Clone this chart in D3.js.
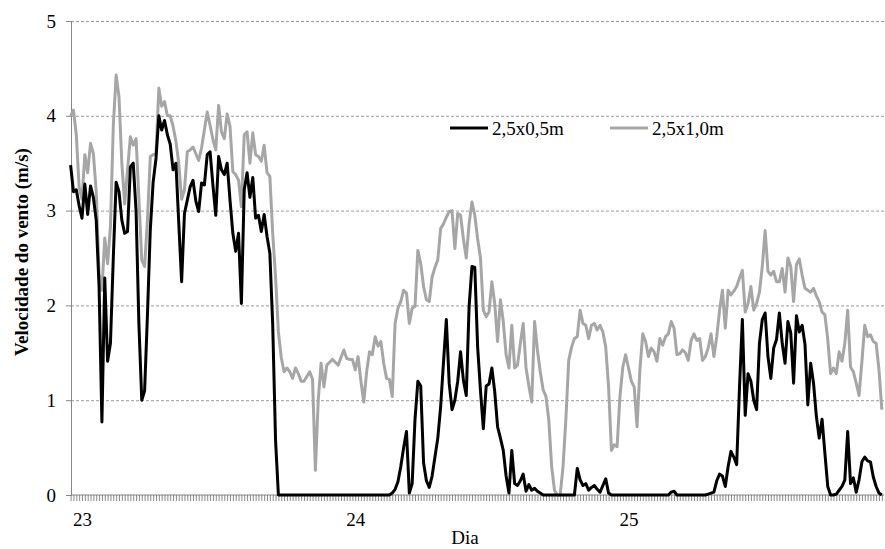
<!DOCTYPE html>
<html>
<head>
<meta charset="utf-8">
<script src="https://cdn.jsdelivr.net/npm/d3@7"></script>
<style>
  body { margin: 0; background: #fff; }
  svg text { font-family: 'Liberation Serif', 'DejaVu Serif', serif; }
</style>
</head>
<body>
<div id="chart"></div>
<script>
const dayLabels = [23, 24, 25];
const yTicks = [0, 1, 2, 3, 4, 5];
const seriesNames = ['2,5x0,5m', '2,5x1,0m'];
// readings every 15 min, first one at 23h00 of day 22
const startDay = 23 - 4 / 96;
const stepDay = 1 / 96;

const v05 = [
  3.48, 3.2, 3.22, 3.05, 2.92, 3.28, 2.96, 3.26, 3.14, 2.9, 2.2, 0.77,
  2.29, 1.41, 1.6, 2.5, 3.3, 3.2, 2.9, 2.76, 2.78, 3.46, 3.5, 3.0,
  1.8, 1.0, 1.1, 1.9, 2.8, 3.3, 3.55, 4.0, 3.85, 3.95, 3.8, 3.7,
  3.43, 3.5, 2.87, 2.25, 2.97, 3.11, 3.25, 3.32, 3.1, 2.99, 3.29, 3.27,
  3.59, 3.62, 3.27, 2.95, 3.57, 3.43, 3.38, 3.5, 3.11, 2.76, 2.57, 2.76,
  2.02, 3.22, 3.4, 3.14, 3.35, 2.92, 2.95, 2.78, 2.96, 2.73, 2.55, 1.8,
  0.58, 0, 0, 0, 0, 0, 0, 0, 0, 0, 0, 0,
  0, 0, 0, 0, 0, 0, 0, 0, 0, 0, 0, 0,
  0, 0, 0, 0, 0, 0, 0, 0, 0, 0, 0, 0,
  0, 0, 0, 0, 0, 0.02, 0.06, 0.14, 0.3, 0.5, 0.67, 0.02,
  0.12, 0.8, 1.2, 1.15, 0.34, 0.15, 0.08, 0.2, 0.4, 0.6, 0.93, 1.4,
  1.85, 1.18, 0.9, 1.0, 1.2, 1.51, 1.21, 1.05, 1.99, 2.41, 2.4, 1.56,
  1.1, 0.7, 1.15, 1.17, 1.34, 1.09, 0.72, 0.6, 0.47, 0.2, 0.02, 0.47,
  0.12, 0.1, 0.15, 0.22, 0.04, 0.11, 0.05, 0.07, 0.04, 0.02, 0, 0,
  0, 0, 0, 0, 0, 0, 0, 0, 0, 0, 0.28, 0.16,
  0.1, 0.12, 0.05, 0.08, 0.1, 0.06, 0.03, 0.1, 0.17, 0.02, 0, 0,
  0, 0, 0, 0, 0, 0, 0, 0, 0, 0, 0, 0,
  0, 0, 0, 0, 0, 0, 0, 0.03, 0.04, 0, 0, 0,
  0, 0, 0, 0, 0, 0, 0, 0, 0.01, 0.02, 0.03, 0.15,
  0.22, 0.2, 0.09, 0.3, 0.46, 0.4, 0.32, 1.14, 1.85, 0.84, 1.28, 1.2,
  1.0, 0.9, 1.6, 1.85, 1.92, 1.46, 1.23, 1.55, 1.64, 1.92, 1.6, 1.39,
  1.83, 1.71, 1.18, 1.89, 1.72, 1.79, 1.59, 0.95, 1.39, 1.18, 0.83, 0.6,
  0.8, 0.44, 0.09, 0, 0, 0.01, 0.05, 0.09, 0.16, 0.67, 0.12, 0.18,
  0.03, 0.16, 0.35, 0.4, 0.36, 0.35, 0.19, 0.09, 0.02, 0,
];

const v10 = [
  4.0, 4.06, 3.8, 3.25, 3.12, 3.59, 3.4, 3.71, 3.6, 3.2, 2.34, 2.16,
  2.71, 2.44, 2.83, 3.89, 4.43, 4.2, 3.5, 3.07, 3.43, 3.78, 3.69, 3.76,
  3.12, 2.48, 2.41, 2.9, 3.57, 3.59, 3.6, 4.29, 4.1, 4.15, 4.0, 4.0,
  3.89, 3.73, 3.5, 3.12, 3.22, 3.62, 3.64, 3.67, 3.6, 3.53, 3.66, 3.85,
  4.04, 3.9, 3.75, 3.64, 4.11, 3.83, 3.76, 4.02, 3.89, 3.41, 3.38, 3.32,
  3.04, 3.8, 3.83, 3.5, 3.82, 3.59, 3.57, 3.52, 3.69, 3.4, 3.36, 2.76,
  2.3, 1.72, 1.45, 1.3, 1.34, 1.3, 1.23, 1.34, 1.28, 1.2, 1.2, 1.25,
  1.3, 1.22, 0.26, 1.0, 1.39, 1.14, 1.37, 1.4, 1.43, 1.4, 1.37, 1.45,
  1.53, 1.44, 1.43, 1.43, 1.32, 1.46, 1.2, 0.98, 1.3, 1.51, 1.48, 1.67,
  1.57, 1.62, 1.39, 1.23, 1.22, 1.04, 1.81, 1.97, 2.04, 2.16, 2.13, 1.81,
  1.97, 1.99, 2.58, 2.44, 2.2, 2.06, 2.04, 2.3, 2.4, 2.48, 2.81, 2.86,
  2.93, 2.99, 3.0, 2.6, 2.97, 2.95, 2.7, 2.5, 2.86, 3.09, 2.95, 2.7,
  2.5, 1.95, 1.88, 1.93, 2.25, 2.02, 1.62, 2.06, 1.83, 1.48, 1.34, 1.79,
  1.34, 1.37, 1.6, 1.81, 1.34, 1.15, 0.98, 1.83, 1.53, 1.3, 1.11, 1.04,
  0.79, 0.3, 0.05, 0, 0, 0.3, 0.8, 1.42, 1.56, 1.65, 1.67, 1.95,
  1.81, 1.79, 1.65, 1.79, 1.81, 1.74, 1.79, 1.72, 1.56, 1.14, 0.47, 0.53,
  0.51, 1.04, 1.35, 1.48, 1.34, 1.2, 1.14, 0.72, 1.32, 1.7, 1.62, 1.46,
  1.55, 1.51, 1.41, 1.65, 1.58, 1.67, 1.7, 1.83, 1.76, 1.48, 1.49, 1.53,
  1.5, 1.42, 1.63, 1.7, 1.63, 1.65, 1.42, 1.46, 1.55, 1.7, 1.46, 1.67,
  1.95, 2.16, 1.76, 2.16, 2.11, 2.15, 2.2, 2.29, 2.37, 1.93, 2.02, 2.2,
  1.95, 2.02, 2.14, 2.41, 2.79, 2.36, 2.32, 2.36, 2.25, 2.25, 2.39, 2.14,
  2.5, 2.41, 2.04, 2.43, 2.49, 2.32, 2.18, 2.16, 2.14, 2.18, 2.1, 2.04,
  1.93, 1.9, 1.64, 1.28, 1.34, 1.28, 1.51, 1.41, 1.6, 1.95, 1.35, 1.3,
  1.18, 1.05, 1.41, 1.79, 1.67, 1.69, 1.62, 1.6, 1.32, 0.9,
];

const width = 885;
const height = 549;
const plotLeft = 71;
const plotRight = 884;
const plotBottom = 495;
const plotTop = 21;
const serif = "'Liberation Serif', 'DejaVu Serif', serif";

const svg = d3
  .select('#chart')
  .append('svg')
  .attr('width', width)
  .attr('height', height)
  .style('background', '#fff');

const times = v05.map((d, i) => startDay + i * stepDay);

const x = d3.scaleLinear().domain([startDay, 25.935]).range([70.6, plotRight]);
const y = d3.scaleLinear().domain([0, 5]).range([plotBottom, plotTop]);

// dashed gridlines
const grid = svg
  .append('g')
  .attr('transform', `translate(${plotLeft},0)`)
  .call(
    d3
      .axisRight(y)
      .tickValues(yTicks.slice(1))
      .tickSize(plotRight - plotLeft)
      .tickFormat(''),
  );
grid.select('.domain').remove();
grid.selectAll('line').attr('stroke', '#9a9a9a').attr('stroke-dasharray', '3,2');

// y axis
const yAxis = svg
  .append('g')
  .attr('transform', `translate(${plotLeft},0)`)
  .call(d3.axisLeft(y).tickValues(yTicks).tickSize(5).tickPadding(10).tickFormat(d3.format('d')))
  .attr('font-family', serif)
  .attr('font-size', 19);
yAxis.select('.domain').attr('stroke', '#868686');
yAxis.selectAll('line').attr('stroke', '#868686');
yAxis.selectAll('text').attr('fill', '#000');

// x axis, one tick per reading
const xTicks = svg
  .append('g')
  .attr('transform', `translate(0,${plotBottom})`)
  .call(d3.axisBottom(x).tickValues(times).tickSize(6).tickFormat(''));
xTicks.select('.domain').attr('stroke', '#868686').attr('d', `M${plotLeft},0H${plotRight}`);
xTicks.selectAll('line').attr('stroke', '#6a6a6a').attr('stroke-width', 0.8);

const xLabels = svg
  .append('g')
  .attr('transform', `translate(0,${plotBottom})`)
  .call(d3.axisBottom(x).tickValues(dayLabels).tickSize(0).tickPadding(18).tickFormat(d3.format('d')))
  .attr('font-family', serif)
  .attr('font-size', 19);
xLabels.select('.domain').remove();
xLabels.selectAll('text').attr('fill', '#000');

// axis titles
svg
  .append('text')
  .attr('transform', 'translate(28,252) rotate(-90)')
  .style('text-anchor', 'middle')
  .attr('font-family', serif)
  .attr('font-size', 19)
  .attr('font-weight', 'bold')
  .text('Velocidade do vento (m/s)');

svg
  .append('text')
  .attr('x', 465)
  .attr('y', 544)
  .style('text-anchor', 'middle')
  .attr('font-family', serif)
  .attr('font-size', 19)
  .text('Dia');

// series
const line = d3
  .line()
  .x((d, i) => x(times[i]))
  .y((d) => y(d));

svg
  .append('path')
  .datum(v10)
  .attr('fill', 'none')
  .attr('stroke', '#a6a6a6')
  .attr('stroke-width', 3)
  .attr('stroke-linejoin', 'round')
  .attr('d', line);

svg
  .append('path')
  .datum(v05)
  .attr('fill', 'none')
  .attr('stroke', '#000')
  .attr('stroke-width', 3)
  .attr('stroke-linejoin', 'round')
  .attr('d', line);

// legend
const legend = svg
  .append('g')
  .selectAll('g')
  .data(seriesNames)
  .enter()
  .append('g')
  .attr('transform', (d, i) => `translate(${i === 0 ? 450 : 610},128)`);

legend
  .append('line')
  .attr('x1', 0)
  .attr('x2', 38)
  .attr('stroke', (d, i) => (i === 0 ? '#000' : '#a6a6a6'))
  .attr('stroke-width', 3);

legend
  .append('text')
  .attr('x', 42)
  .attr('y', 7)
  .attr('font-family', serif)
  .attr('font-size', 19)
  .text((d) => d);
</script>
</body>
</html>
